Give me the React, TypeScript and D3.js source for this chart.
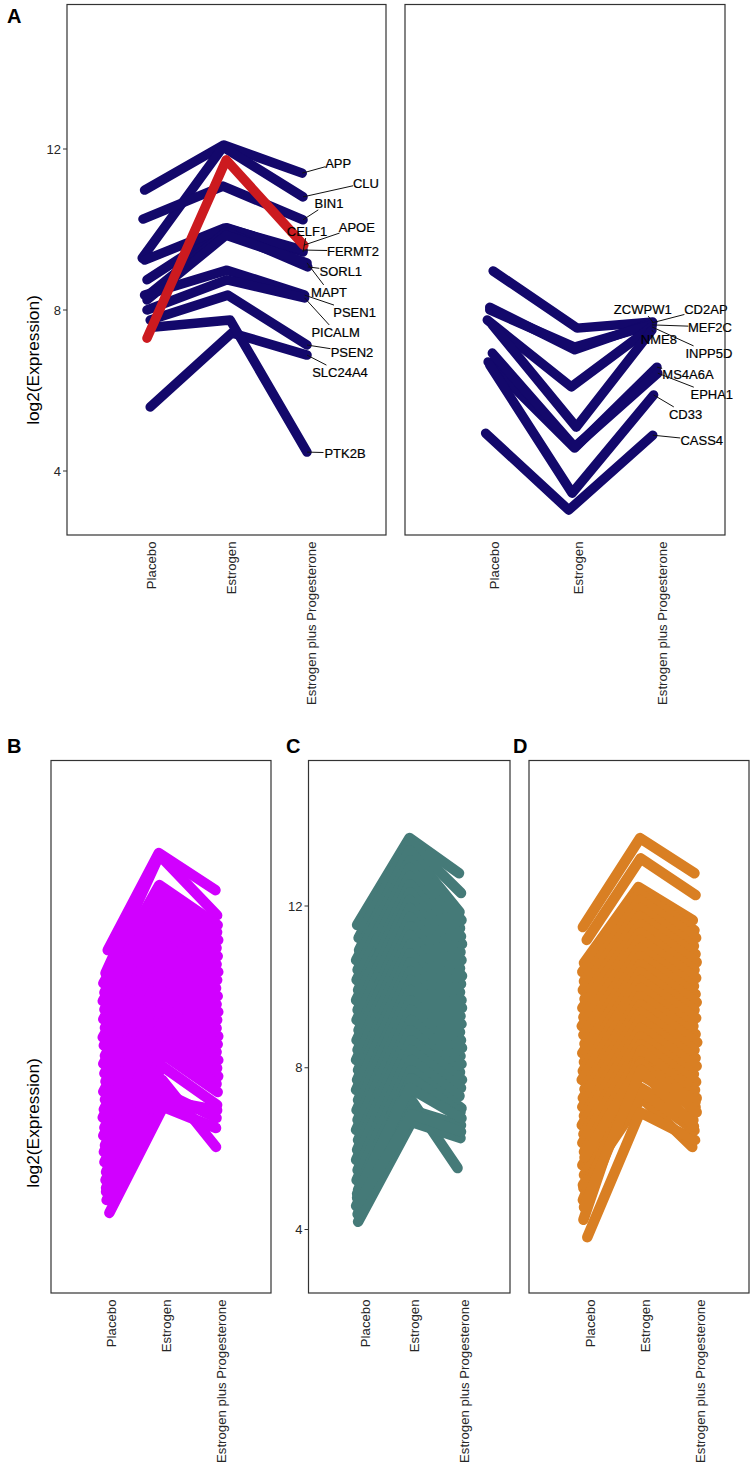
import React from 'react';
import * as d3 from 'd3';

const treatments = ['Placebo', 'Estrogen', 'Estrogen plus Progesterone'];
const yTicks = [4, 8, 12];

// panel A, left: risk genes going up with estrogen
const upGenes = ['APP', 'CLU', 'BIN1', 'CELF1', 'FERMT2', 'SORL1', 'MAPT', 'PSEN1', 'PICALM', 'PSEN2', 'SLC24A4', 'PTK2B', 'APOE'];
const upPlacebo = [10.98, 9.29, 10.26, 8.75, 9.24, 8.35, 8.25, 8.37, 8.0, 7.75, 5.59, 7.58, 7.3];
const upEstrogen = [12.1, 12.05, 11.08, 10.04, 10.04, 9.94, 9.86, 8.99, 8.75, 8.37, 7.43, 7.75, 11.73];
const upCombo = [11.4, 10.81, 10.24, 9.44, 9.49, 9.07, 9.17, 8.37, 8.3, 7.13, 6.88, 4.47, 9.61];
const upJitterP = [-0.08, -0.11, -0.1, -0.05, -0.08, -0.05, -0.05, -0.08, -0.05, -0.01, -0.01, 0.05, -0.05];
const upJitterE = [-0.09, -0.1, -0.1, -0.05, -0.08, -0.06, -0.06, -0.05, -0.05, -0.04, 0.01, -0.01, -0.06];
const upJitterC = [-0.11, -0.1, -0.1, -0.1, -0.1, -0.04, -0.05, -0.08, -0.08, -0.05, -0.05, -0.05, -0.09];

// panel A, right: risk genes going down with estrogen
const downGenes = ['ZCWPW1', 'CD2AP', 'MEF2C', 'INPP5D', 'NME8', 'MS4A6A', 'EPHA1', 'CD33', 'CASS4'];
const downPlacebo = [8.97, 8.07, 8.0, 7.75, 7.63, 6.71, 6.93, 6.63, 4.94];
const downEstrogen = [7.55, 7.01, 7.08, 6.09, 5.09, 4.57, 4.6, 3.45, 3.03];
const downCombo = [7.7, 7.68, 7.63, 7.58, 7.5, 6.58, 6.43, 5.89, 4.89];
const downJitterP = [-0.01, -0.05, -0.05, -0.08, -0.02, -0.07, -0.02, -0.05, -0.1];
const downJitterE = [-0.01, -0.04, -0.04, -0.08, -0.02, -0.04, -0.04, -0.07, -0.11];
const downJitterC = [-0.11, -0.12, -0.12, -0.12, -0.12, -0.06, -0.05, -0.1, -0.11];

// panel B
const bPlacebo = [10.91, 10.34, 10.09, 9.86, 9.65, 9.44, 9.2, 8.99, 8.75, 8.55, 8.3, 8.1, 7.86, 7.66, 7.41, 7.21, 6.97, 6.77, 6.52, 6.32, 6.08, 5.92, 5.67, 5.42, 5.22, 5.03, 4.93, 4.73, 4.41];
const bEstrogen = [13.31, 13.26, 12.52, 12.32, 12.14, 11.97, 11.8, 11.5, 11.31, 11.11, 10.91, 10.71, 10.51, 10.32, 10.12, 9.92, 9.72, 9.53, 9.33, 9.13, 8.93, 8.73, 8.54, 8.34, 8.04, 7.7, 7.4, 7.2, 7.03];
const bCombo = [12.39, 11.77, 11.53, 11.35, 11.16, 10.96, 10.76, 10.56, 10.37, 10.17, 9.97, 9.77, 9.57, 9.38, 9.18, 8.98, 8.78, 8.58, 8.39, 8.19, 7.99, 7.79, 7.6, 7.4, 7.08, 6.04, 6.76, 6.95, 6.51];
const bJitterP = [-0.06, -0.1, -0.14, -0.12, -0.15, -0.12, -0.14, -0.11, -0.15, -0.13, -0.11, -0.14, -0.12, -0.1, -0.14, -0.11, -0.13, -0.15, -0.12, -0.14, -0.11, -0.13, -0.12, -0.09, -0.1, -0.09, -0.09, -0.08, -0.03];
const bJitterE = [-0.13, -0.12, -0.12, -0.12, -0.11, -0.1, -0.1, -0.1, -0.09, -0.09, -0.09, -0.08, -0.09, -0.08, -0.08, -0.08, -0.07, -0.08, -0.07, -0.07, -0.07, -0.06, -0.07, -0.06, -0.07, -0.07, -0.06, -0.05, -0.05];
const bJitterC = [-0.1, -0.07, -0.06, -0.07, -0.05, -0.08, -0.06, -0.08, -0.05, -0.07, -0.09, -0.06, -0.08, -0.05, -0.07, -0.08, -0.05, -0.06, -0.08, -0.05, -0.07, -0.05, -0.08, -0.06, -0.07, -0.09, -0.08, -0.07, -0.09];

// panel C
const cPlacebo = [11.53, 11.21, 10.91, 10.66, 10.42, 10.17, 9.92, 9.67, 9.43, 9.18, 8.93, 8.68, 8.44, 8.19, 7.94, 7.7, 7.45, 7.2, 6.95, 6.71, 6.46, 6.21, 5.97, 5.72, 5.47, 5.22, 4.98, 4.78, 4.58, 4.38, 4.19, 4.88, 4.66];
const cEstrogen = [13.68, 13.58, 13.38, 13.13, 12.94, 12.74, 12.54, 12.34, 12.15, 11.95, 11.73, 11.5, 11.28, 11.06, 10.83, 10.61, 10.39, 10.17, 9.92, 9.67, 9.43, 9.18, 8.93, 8.68, 8.44, 8.19, 7.94, 7.74, 7.2, 6.95, 6.66, 7.5, 6.85];
const cCombo = [12.81, 12.32, 11.85, 11.65, 11.45, 11.25, 11.06, 10.86, 10.66, 10.46, 10.27, 10.07, 9.87, 9.67, 9.48, 9.28, 9.08, 8.88, 8.68, 8.49, 8.29, 8.09, 7.89, 7.7, 7.5, 7.3, 7.0, 6.9, 5.52, 6.58, 6.26, 6.75, 6.42];
const cJitterP = [-0.16, -0.13, -0.12, -0.18, -0.15, -0.17, -0.14, -0.18, -0.15, -0.17, -0.13, -0.17, -0.15, -0.18, -0.14, -0.16, -0.18, -0.14, -0.17, -0.15, -0.18, -0.14, -0.16, -0.18, -0.15, -0.17, -0.14, -0.16, -0.18, -0.15, -0.14, -0.16, -0.13];
const cJitterE = [-0.1, -0.1, -0.1, -0.09, -0.1, -0.1, -0.09, -0.09, -0.1, -0.09, -0.09, -0.08, -0.09, -0.08, -0.09, -0.08, -0.08, -0.07, -0.08, -0.08, -0.07, -0.07, -0.08, -0.07, -0.07, -0.06, -0.07, -0.06, -0.06, -0.05, -0.06, -0.1, -0.05];
const cJitterC = [-0.1, -0.06, -0.09, -0.05, -0.08, -0.06, -0.04, -0.07, -0.05, -0.08, -0.04, -0.06, -0.08, -0.05, -0.04, -0.07, -0.05, -0.08, -0.06, -0.04, -0.07, -0.05, -0.08, -0.04, -0.06, -0.09, -0.05, -0.07, -0.13, -0.06, -0.07, -0.05, -0.06];

// panel D
const dPlacebo = [11.48, 11.16, 10.59, 10.37, 10.14, 9.92, 9.7, 9.48, 9.25, 9.03, 8.81, 8.59, 8.36, 8.14, 7.92, 7.7, 7.47, 7.25, 7.03, 6.81, 6.58, 6.36, 6.14, 5.92, 4.24, 5.59, 5.35, 5.1, 3.81, 5.02, 4.73, 5.78, 4.55];
const dEstrogen = [13.68, 13.18, 12.47, 12.32, 12.15, 11.95, 11.75, 11.55, 11.35, 11.16, 10.96, 10.76, 10.56, 10.37, 10.17, 9.97, 9.77, 9.57, 9.38, 9.18, 8.98, 8.78, 8.58, 8.39, 8.44, 7.82, 7.5, 7.25, 6.9, 7.42, 8.15, 8.1, 7.95];
const dCombo = [12.81, 12.27, 11.65, 11.4, 11.21, 11.01, 10.81, 10.61, 10.42, 10.22, 10.02, 9.82, 9.62, 9.43, 9.23, 9.03, 8.83, 8.63, 8.44, 8.24, 8.04, 7.84, 7.65, 7.45, 7.25, 7.03, 6.71, 6.04, 6.21, 6.45, 7.15, 6.9, 6.55];
const dJitterP = [-0.13, -0.06, -0.11, -0.14, -0.11, -0.13, -0.1, -0.14, -0.12, -0.15, -0.12, -0.1, -0.14, -0.11, -0.13, -0.15, -0.1, -0.13, -0.14, -0.11, -0.15, -0.12, -0.14, -0.11, -0.12, -0.14, -0.11, -0.13, -0.05, -0.12, -0.13, -0.1, -0.11];
const dJitterE = [-0.09, -0.08, -0.12, -0.1, -0.1, -0.09, -0.1, -0.09, -0.09, -0.1, -0.09, -0.09, -0.08, -0.09, -0.09, -0.08, -0.09, -0.08, -0.08, -0.09, -0.08, -0.08, -0.08, -0.07, -0.07, -0.08, -0.07, -0.06, -0.09, -0.07, -0.08, -0.08, -0.07];
const dJitterC = [-0.1, -0.08, -0.13, -0.1, -0.07, -0.11, -0.08, -0.06, -0.1, -0.07, -0.11, -0.08, -0.06, -0.1, -0.07, -0.12, -0.08, -0.05, -0.1, -0.08, -0.06, -0.11, -0.07, -0.09, -0.06, -0.08, -0.12, -0.14, -0.09, -0.1, -0.08, -0.06, -0.11];

const NAVY = '#13086b';
const RED = '#cc1a1f';
const TEXT = '#262626';
const FONT = '"Liberation Sans", Arial, sans-serif';

// repelled gene labels, as an offset from the line's last point
const upLabelOffset: Record<string, number[]> = {
  APP: [36, -10], CLU: [63, -14], BIN1: [26, -17], APOE: [53, -18], CELF1: [4, -21], FERMT2: [50, 1], SORL1: [33, 4],
  MAPT: [22, 29], PSEN1: [50, 17], PICALM: [31, 34], PSEN2: [45, 7], SLC24A4: [33, 17], PTK2B: [38, 1],
};
const downLabelOffset: Record<string, number[]> = {
  ZCWPW1: [-10, -13], CD2AP: [54, -14], MEF2C: [58, 2], INPP5D: [57, 26], NME8: [7, 9], MS4A6A: [31, 7], EPHA1: [54, 21],
  CD33: [32, 19], CASS4: [49, 5],
};

type Panel = {
  frame: number[]; // left, top, right, bottom
  ticksX: number[]; // first and last treatment
  ticksY: number[]; // y of 4 and y of 12
  color: string;
  width: number;
  placebo: number[];
  estrogen: number[];
  combo: number[];
  jitter: number[][];
  genes?: string[];
  offsets?: Record<string, number[]>;
  showY?: boolean;
};

const panels: Panel[] = [
  { frame: [67, 4.5, 386, 535], ticksX: [151, 311], ticksY: [471, 149], color: NAVY, width: 9.5, placebo: upPlacebo, estrogen: upEstrogen, combo: upCombo, jitter: [upJitterP, upJitterE, upJitterC], genes: upGenes, offsets: upLabelOffset, showY: true },
  { frame: [405, 4.5, 725, 535], ticksX: [494, 662], ticksY: [471, 149], color: NAVY, width: 9.5, placebo: downPlacebo, estrogen: downEstrogen, combo: downCombo, jitter: [downJitterP, downJitterE, downJitterC], genes: downGenes, offsets: downLabelOffset },
  { frame: [51, 760.5, 271, 1293], ticksX: [111, 221], ticksY: [1229.5, 906], color: '#d100ff', width: 10.5, placebo: bPlacebo, estrogen: bEstrogen, combo: bCombo, jitter: [bJitterP, bJitterE, bJitterC] },
  { frame: [308.5, 760.5, 510, 1293], ticksX: [365, 464], ticksY: [1229.5, 906], color: '#457a78', width: 10.5, placebo: cPlacebo, estrogen: cEstrogen, combo: cCombo, jitter: [cJitterP, cJitterE, cJitterC], showY: true },
  { frame: [529, 760.5, 749, 1293], ticksX: [590, 700], ticksY: [1229.5, 906], color: '#d97f23', width: 10.5, placebo: dPlacebo, estrogen: dEstrogen, combo: dCombo, jitter: [dJitterP, dJitterE, dJitterC] },
];

const letters = [
  { t: 'A', x: 7, y: 23 },
  { t: 'B', x: 7, y: 753 },
  { t: 'C', x: 286, y: 753 },
  { t: 'D', x: 513, y: 753 },
];

const yLabels = [
  { x: 33, y: 360 },
  { x: 33, y: 1123 },
];

const SlopePanel = ({ p }: { p: Panel }) => {
  const [left, top, right, bottom] = p.frame;
  const x = d3.scaleLinear().domain([0, 2]).range(p.ticksX);
  const y = d3.scaleLinear().domain([4, 12]).range(p.ticksY);
  const line = d3.line<number[]>().x((d) => x(d[0])).y((d) => y(d[1]));

  const rows = p.placebo.map((v, i) => [
    [0 + p.jitter[0][i], v],
    [1 + p.jitter[1][i], p.estrogen[i]],
    [2 + p.jitter[2][i], p.combo[i]],
  ]);

  return (
    <g>
      {rows.map((r, i) => (
        <path
          key={i}
          d={line(r) || ''}
          fill="none"
          stroke={p.genes && p.genes[i] === 'APOE' ? RED : p.color}
          strokeWidth={p.width}
          strokeLinecap="round"
          strokeLinejoin="round"
        />
      ))}

      {p.genes && p.genes.map((g, i) => {
        const end = rows[i][2];
        const ex = x(end[0]);
        const ey = y(end[1]);
        const [dx, dy] = p.offsets![g];
        const hw = g.length * 4.3;
        const hh = 7;
        // stop the connector at the edge of the label box
        const t = Math.min(hw / Math.max(Math.abs(dx), 0.01), hh / Math.max(Math.abs(dy), 0.01), 1);
        return (
          <g key={g}>
            <line x1={ex} y1={ey} x2={ex + dx * (1 - t)} y2={ey + dy * (1 - t)} stroke="#111" strokeWidth={1} />
            <text x={ex + dx} y={ey + dy} dy="0.36em" textAnchor="middle" fontSize={13} fill="#000" stroke="#000" strokeWidth={0.2}>{g}</text>
          </g>
        );
      })}

      <rect x={left} y={top} width={right - left} height={bottom - top} fill="none" stroke="#333" strokeWidth={1.2} />

      {p.showY && yTicks.map((t) => (
        <g key={t}>
          <line x1={left - 4} x2={left} y1={y(t)} y2={y(t)} stroke="#333" strokeWidth={1} />
          <text x={left - 6} y={y(t)} dy="0.36em" textAnchor="end" fontSize={13} fill={TEXT}>{t}</text>
        </g>
      ))}

      {treatments.map((t, i) => (
        <text
          key={t}
          transform={`translate(${x(i)},${bottom + 6.5}) rotate(-90)`}
          dy="0.36em"
          textAnchor="end"
          fontSize={13.2}
          fill={TEXT}
        >
          {t}
        </text>
      ))}
    </g>
  );
};

export default function App() {
  return (
    <svg width={753} height={1468} style={{ position: 'absolute', left: 0, top: 0 }} fontFamily={FONT}>
      <rect width={753} height={1468} fill="#fff" />
      {panels.map((p, i) => <SlopePanel key={i} p={p} />)}
      {letters.map((l) => (
        <text key={l.t} x={l.x} y={l.y} fontSize={20} fontWeight="bold" fill="#000">{l.t}</text>
      ))}
      {yLabels.map((l, i) => (
        <text key={i} transform={`translate(${l.x},${l.y}) rotate(-90)`} dy="0.36em" textAnchor="middle" fontSize={17.3} fill="#000">
          log2(Expression)
        </text>
      ))}
    </svg>
  );
}
